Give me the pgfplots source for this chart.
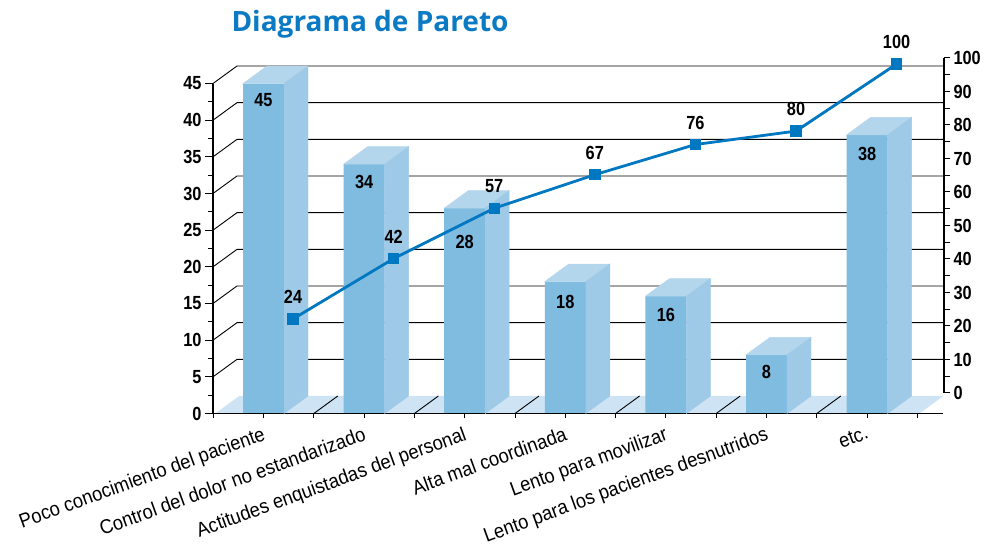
\documentclass[border=0pt]{standalone}
\usepackage{pgfplots}
\pgfplotsset{compat=1.18}
\usepackage{pgfplotstable}
\usepackage{fontspec}
\setmainfont{Liberation Sans}[FakeStretch=0.86]
\newfontfamily\catfont{Liberation Sans}[FakeStretch=0.92]
\newfontfamily\titlefont{Open Sans}
\definecolor{frontc}{HTML}{80BBE0}
\definecolor{sidec}{HTML}{9ECAE8}
\definecolor{topc}{HTML}{B4D6ED}
\definecolor{floorc}{HTML}{CEE4F4}
\definecolor{linec}{HTML}{0077C1}
\definecolor{titlec}{HTML}{0A7AC4}
\pgfplotsset{/pgf/number format/assume math mode=true}
\pgfplotstableread{
x v c off
0 45 24 17
1 34 42 18
2 28 57 34
3 18 67 20
4 16 76 19
5 8 80 17
6 38 100 19
}\data
\newcommand{\numfont}{\bfseries\fontsize{19}{22}\selectfont}
\begin{document}
\begin{tikzpicture}
\useasboundingbox (0,0) rectangle (990pt,556pt);
\node[font=\titlefont\bfseries\fontsize{28}{32}\selectfont, text=titlec] at (370pt,532pt) {Diagrama de Pareto};
% main (front) axis
\begin{axis}[
  at={(213pt,142.5pt)}, anchor=south west,
  x=100.6pt, y=7.333pt,
  xmin=-0.502, xmax=6.754, ymin=0, ymax=45,
  clip=false, axis on top,
  axis x line*=bottom, axis y line*=left,
  axis line style={-, line width=1.3pt, black},
  tick align=outside,
  major tick length=8pt, minor tick length=5pt,
  tick style={black, line width=1pt},
  ytick={0,5,...,45}, minor y tick num=1,
  yticklabel style={font=\numfont},
  xtick={0,...,6},
  xtick style={/pgfplots/major tick length=5pt},
  xticklabels={Poco conocimiento del paciente, Control del dolor no estandarizado, Actitudes enquistadas del personal, Alta mal coordinada, Lento para movilizar, Lento para los pacientes desnutridos, etc.},
  xticklabel style={rotate=20, anchor=north east, font=\catfont\fontsize{20}{22}\selectfont},
  extra x ticks={-0.5,0.5,...,6.5},
  extra x tick labels={},
  extra x tick style={/pgfplots/major tick length=10pt},
]
% floor
\fill[floorc] (axis cs:-0.48,0) -- (axis cs:6.52,0) -- ++(24pt,17.5pt) -- ++(-704.2pt,0pt) -- cycle;
% back wall grid lines with depth diagonals
\pgfplotsinvokeforeach{5,10,15,20,25,30,35,40,45}{
  \draw[black, line width=0.9pt] (axis cs:-0.502,#1) -- ++(24pt,17.5pt) -- ++(706pt,0pt);
}
% floor separators
\pgfplotsinvokeforeach{0.5,1.5,2.5,3.5,4.5,5.5}{
  \draw[black, line width=0.9pt] (axis cs:#1,0) -- ++(24pt,17.5pt);
}
% bar side and top faces
\addplot[scatter, only marks, mark=square*, mark size=0pt,
  visualization depends on={\thisrow{v} \as \val},
  scatter/@pre marker code/.code={%
    \pgfmathsetlengthmacro\hh{\val*7.333pt}%
    \fill[topc] (-20.5pt,0pt) -- (20.5pt,0pt) -- (44.5pt,17.5pt) -- (3.5pt,17.5pt) -- cycle;
    \fill[sidec] (20.5pt,0pt) -- (44.5pt,17.5pt) -- (44.5pt,17.5pt-\hh) -- (20.5pt,-\hh) -- cycle;
    \begin{scope}[opacity=0]},
  scatter/@post marker code/.code={\end{scope}}
] table[x=x,y=v] {\data};
% bar front faces
\addplot[ybar, bar width=41pt, fill=frontc, draw=none,
  visualization depends on={\thisrow{off} \as \off},
  nodes near coords,
  every node near coord/.append style={font=\numfont, text=black, anchor=center, yshift=-\off pt}
] table[x=x,y=v] {\data};
\end{axis}
% cumulative line axis
\begin{axis}[
  at={(242.5pt,156.5pt)}, anchor=south west,
  x=100.6pt, y=3.355pt,
  xmin=-0.502, xmax=6.754, ymin=0, ymax=100,
  hide axis, clip=false,
]
\addplot[line width=2.8pt, linec, mark=square*, mark size=4.3pt, mark options={solid},
  nodes near coords,
  every node near coord/.append style={font=\numfont, text=black, anchor=center, yshift=22pt}
] table[x=x,y=c] {\data};
\end{axis}
% right axis
\begin{axis}[
  at={(944pt,163pt)}, anchor=south east,
  x=10pt, y=3.35pt,
  xmin=0, xmax=1, ymin=0, ymax=100,
  axis x line=none, axis y line*=right,
  axis line style={-, line width=1.3pt, black},
  tick align=outside,
  major tick length=6pt, minor tick length=6pt,
  tick style={black, line width=1pt},
  ytick={0,10,...,100}, minor y tick num=1,
  yticklabel style={font=\numfont},
]
\end{axis}
\end{tikzpicture}
\end{document}
